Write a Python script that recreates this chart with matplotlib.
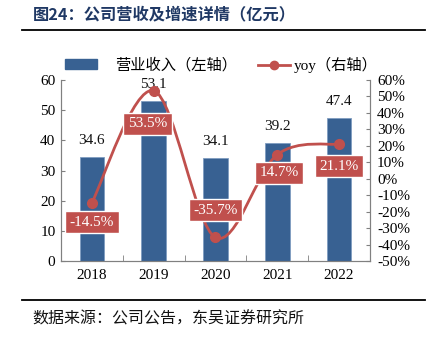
import matplotlib
matplotlib.use("Agg")
import matplotlib.pyplot as plt
from matplotlib.path import Path
from matplotlib.patches import PathPatch, Patch
from matplotlib.lines import Line2D
from matplotlib.ticker import MultipleLocator, FuncFormatter

plt.rcParams["font.family"] = ["Liberation Serif", "Noto Sans CJK SC"]

# ---------------- data ----------------
years = ["2018", "2019", "2020", "2021", "2022"]
revenue = [34.6, 53.1, 34.1, 39.2, 47.4]          # 亿元
yoy = [-14.5, 53.5, -35.7, 14.7, 21.1]            # %
yoy_label_dy = [-11.8, -20.0, 16.7, -11.2, -13.4]  # label offset from point, in %
yoy_label_dx = [0.0, -0.1, 0.0, 0.03, 0.0]

bar_color = "#386192"
line_color = "#C0504D"
title_color = "#1F3864"

fig = plt.figure(figsize=(4.31, 3.37), dpi=100)
ax = fig.add_axes([0.1415, 0.2255, 0.717, 0.537])
ax2 = ax.twinx()

x = list(range(len(years)))

# ---------------- bars ----------------
ax.bar(x, revenue, width=0.4, color=bar_color, edgecolor="#7F9CC0", linewidth=0.6, zorder=2)
for xi, v in zip(x, revenue):
    ax.annotate(f"{v:.1f}", (xi, v), xytext=(0, 7), textcoords="offset points",
                ha="center", va="bottom", fontsize=11, color="#111111")

ax.set_xlim(-0.5, len(years) - 0.5)
ax.set_ylim(0, 60)
ax.yaxis.set_major_locator(MultipleLocator(10))
ax.set_xticks(x)
ax.set_xticklabels(years)
ax.set_xticks([i + 0.5 for i in x[:-1]], minor=True)
ax.tick_params(axis="x", which="major", length=0, labelsize=11, pad=6)
ax.tick_params(axis="x", which="minor", direction="in", length=4, color="#808080")
ax.tick_params(axis="y", direction="in", length=3, color="#808080", labelsize=11, pad=4)

# ---------------- smoothed yoy line ----------------
ax2.set_ylim(-50, 60)
ax2.yaxis.set_major_locator(MultipleLocator(10))
ax2.yaxis.set_major_formatter(FuncFormatter(lambda v, p: f"{v:.0f}%"))
ax2.tick_params(axis="y", direction="in", length=3, color="#808080", labelsize=11, pad=5)

pts = list(zip(x, yoy))
verts = [pts[0]]
codes = [Path.MOVETO]
for i in range(len(pts) - 1):
    p0 = pts[i - 1] if i > 0 else pts[i]
    p1 = pts[i]
    p2 = pts[i + 1]
    p3 = pts[i + 2] if i + 2 < len(pts) else pts[i + 1]
    c1 = (p1[0] + (p2[0] - p0[0]) / 6, p1[1] + (p2[1] - p0[1]) / 6)
    c2 = (p2[0] - (p3[0] - p1[0]) / 6, p2[1] - (p3[1] - p1[1]) / 6)
    verts += [c1, c2, p2]
    codes += [Path.CURVE4] * 3
ax2.add_patch(PathPatch(Path(verts, codes), facecolor="none", edgecolor=line_color,
                        linewidth=2, zorder=3))
ax2.plot(x, yoy, linestyle="none", marker="o", markersize=7, color=line_color, zorder=4)

for xi, v, dy, dx in zip(x, yoy, yoy_label_dy, yoy_label_dx):
    ax2.text(xi + dx, v + dy, f"{v:.1f}%", ha="center", va="center", fontsize=11,
             color="white", zorder=5,
             bbox=dict(boxstyle="square,pad=0.3", facecolor=line_color,
                       edgecolor="white", linewidth=1))

for a in (ax, ax2):
    a.spines["top"].set_visible(False)
    for s in ("left", "right", "bottom"):
        a.spines[s].set_color("#808080")
        a.spines[s].set_linewidth(0.8)

# ---------------- legend (two entries placed separately) ----------------
leg_kw = dict(loc="center left", frameon=False, fontsize=11, borderpad=0,
              borderaxespad=0, handleheight=0.6)
fig.legend([Patch(facecolor=bar_color, edgecolor=bar_color)], ["营业收入（左轴）"],
           bbox_to_anchor=(0.151, 0.807), handlelength=2.1, handletextpad=1.2, **leg_kw)
fig.legend([Line2D([0], [0], color=line_color, lw=2, marker="o", markersize=6)],
           ["yoy（右轴）"], bbox_to_anchor=(0.599, 0.807), handlelength=2.1,
           handletextpad=0.25, **leg_kw)

# ---------------- title / source ----------------
fig.text(0.076, 0.958, "图24：公司营收及增速详情（亿元）", fontsize=11.7, fontweight="bold",
         color=title_color, va="center", ha="left", family=["Noto Sans CJK SC"])
fig.add_artist(Line2D([0.051, 0.986], [0.911, 0.911], color="black", lw=1.3))
fig.add_artist(Line2D([0.051, 0.986], [0.110, 0.110], color="black", lw=1.3))
fig.text(0.074, 0.053, "数据来源：公司公告，东吴证券研究所", fontsize=11.5,
         color="#111111", va="center", ha="left", family=["Noto Sans CJK SC"])

fig.savefig("out.png", dpi=100)
